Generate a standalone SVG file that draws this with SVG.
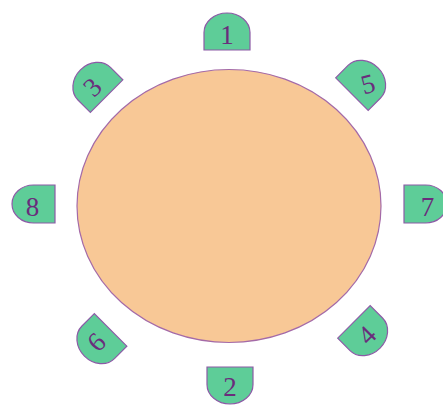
<svg xmlns="http://www.w3.org/2000/svg" width="443" height="405" viewBox="0 0 443 405">
<style>
.chair{fill:#5ecd98;stroke:#8c5aa6;stroke-width:1.2}
.lbl{font-family:"Liberation Serif","DejaVu Serif",serif;font-size:27px;fill:#6a2c7c;text-anchor:middle;dominant-baseline:central}
</style>
<defs>
<path id="up" d="M -23,18.5 L -23,1 A 23 19.5 0 0 1 23,1 L 23,18.5 Z"/>
<path id="down" d="M -23,-18.5 L -23,-1 A 23 19.5 0 0 0 23,-1 L 23,-18.5 Z"/>
<path id="left" d="M 23.5,-19 L 2,-19 A 21.5 19 0 0 0 2,19 L 23.5,19 Z"/>
<path id="right" d="M -23.5,-19 L -2,-19 A 21.5 19 0 0 1 -2,19 L -23.5,19 Z"/>
</defs>
<rect width="443" height="405" fill="#ffffff"/>
<g id="table">
<ellipse cx="229" cy="206" rx="152" ry="136.5" fill="#f8c896" stroke="#a46aa8" stroke-width="1.2"/>
</g>
<g id="chair1" transform="translate(227,31.5)">
<use href="#up" class="chair"/>
<text class="lbl" x="0" y="3">1</text>
</g>
<g id="chair2" transform="translate(230,385.5)">
<use href="#down" class="chair"/>
<text class="lbl" x="0" y="1">2</text>
</g>
<g id="chair3" transform="translate(93.5,83)">
<use href="#up" class="chair" transform="rotate(-45)"/>
<text class="lbl" x="0" y="0" transform="translate(-1,4) rotate(-45)">3</text>
</g>
<g id="chair5" transform="translate(365,81)">
<use href="#up" class="chair" transform="rotate(45)"/>
<text class="lbl" x="0" y="0" transform="translate(3,3) rotate(-15)">5</text>
</g>
<g id="chair6" transform="translate(97.5,343)">
<use href="#down" class="chair" transform="rotate(45)"/>
<text class="lbl" x="0" y="0" transform="translate(-1,-1) rotate(-45)">6</text>
</g>
<g id="chair4" transform="translate(367,335)">
<use href="#down" class="chair" transform="rotate(-45)"/>
<text class="lbl" x="0" y="0" transform="translate(0,0) rotate(-45)">4</text>
</g>
<g id="chair8" transform="translate(31.5,204)">
<use href="#left" class="chair"/>
<text class="lbl" x="1" y="3">8</text>
</g>
<g id="chair7" transform="translate(427.5,204)">
<use href="#right" class="chair"/>
<text class="lbl" x="0" y="3">7</text>
</g>
<g id="connectors"/>
</svg>
